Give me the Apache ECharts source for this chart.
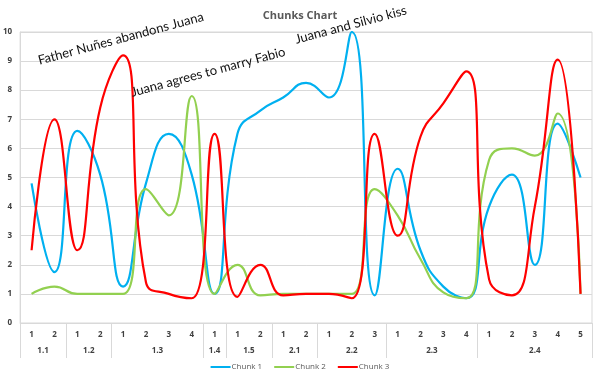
<!DOCTYPE html>
<html>
<head>
<meta charset="utf-8">
<script src="https://cdn.jsdelivr.net/npm/echarts@6/dist/echarts.min.js"></script>
<style>html,body{margin:0;padding:0;background:#fff}#c{width:600px;height:383px}</style>
</head>
<body>
<div id="c"></div>
<script>
const innerLabels = ['1','2','1','2','1','2','3','4','1','1','2','1','2','1','2','3','1','2','3','4','1','2','3','4','5'];
const groupNames = ['1.1','1.2','1.3','1.4','1.5','2.1','2.2','2.3','2.4'];
const groupSizes = [2,2,4,1,2,2,3,4,5];
const chunk1 = [4.8,1.75,6.6,5.1,1.25,4.8,6.5,5.1,1.0,6.5,7.3,7.75,8.25,7.75,10,0.95,5.3,2.5,1.25,0.85,4.0,5.1,2.0,6.85,5.0];
const chunk2 = [1.0,1.25,1.0,1.0,1.0,4.6,3.7,7.8,1.0,2.0,0.95,1.0,1.0,1.0,1.0,4.6,3.7,2.2,1.05,0.85,5.6,6.0,5.75,7.2,1.0];
const chunk3 = [2.5,7.0,2.5,7.4,9.2,1.4,1.0,0.85,6.5,0.9,2.0,0.95,1.0,1.0,0.85,6.5,3.0,6.4,7.55,8.65,1.5,0.95,4.0,9.05,1.0];
const yTicks = [0,1,2,3,4,5,6,7,8,9,10];
const annotations = [
  {text:'Father Nuñes abandons Juana', x:40, y:67},
  {text:'Juana agrees to marry Fabio', x:133, y:99},
  {text:'Juana and Silvio kiss', x:297, y:46}
];

const boundaries = [0];
const centers = [];
groupSizes.forEach((s) => { const b = boundaries[boundaries.length-1]; centers.push(b + s/2); boundaries.push(b + s); });

const chart = echarts.init(document.getElementById('c'));
const gridLeft = 20, gridTop = 32, gridRight = 8, gridBottom = 60;
const axisColor = '#d9d9d9', labelColor = '#404040';
const font = 'Open Sans, Liberation Sans, sans-serif';
const annFont = 'Lato, "Liberation Sans", sans-serif';

chart.setOption({
  animation: false,
  title: {text: 'Chunks Chart', left: 'center', top: 5,
    textStyle: {fontFamily: font, fontSize: 11, fontWeight: 'bold', color: '#595959'}},
  grid: {left: gridLeft, right: gridRight, top: gridTop, bottom: gridBottom, show: true, borderColor: axisColor, borderWidth: 1},
  legend: {bottom: 7, left: 'center', icon: 'rect', itemWidth: 20, itemHeight: 2, itemGap: 12,
    textStyle: {fontFamily: font, fontSize: 8, color: '#595959', padding: [0,0,0,-4]},
    data: ['Chunk 1','Chunk 2','Chunk 3']},
  xAxis: [
    {type: 'category', data: innerLabels, boundaryGap: true, position: 'bottom',
     axisLine: {show: true, lineStyle: {color: axisColor}}, axisTick: {show: false},
     axisLabel: {interval: 0, margin: 8, fontFamily: font, fontSize: 8, fontWeight: 'bold', color: labelColor},
     splitLine: {show: false}},
    {type: 'value', min: 0, max: groupSizes.reduce((a,b)=>a+b,0), position: 'bottom',
     axisLine: {show: false},
     axisTick: {show: true, customValues: boundaries, length: 35, inside: false, lineStyle: {color: axisColor}},
     axisLabel: {customValues: centers, margin: 24, fontFamily: font, fontSize: 8, fontWeight: 'bold', color: labelColor,
       formatter: (v) => { const i = centers.indexOf(v); return i >= 0 ? groupNames[i] : ''; }},
     splitLine: {show: false}}
  ],
  yAxis: {type: 'value', min: yTicks[0], max: yTicks[yTicks.length-1], interval: 1,
    axisLine: {show: true, lineStyle: {color: axisColor}}, axisTick: {show: false},
    axisLabel: {margin: 8, fontFamily: font, fontSize: 8, fontWeight: 'bold', color: labelColor},
    splitLine: {show: true, lineStyle: {color: axisColor}}},
  series: [
    {name: 'Chunk 1', type: 'line', data: chunk1, smooth: true, symbol: 'none', xAxisIndex: 0, lineStyle: {width: 2.2, color: '#00B0F0'}, itemStyle: {color: '#00B0F0'}},
    {name: 'Chunk 2', type: 'line', data: chunk2, smooth: true, symbol: 'none', xAxisIndex: 0, lineStyle: {width: 2.2, color: '#92D050'}, itemStyle: {color: '#92D050'}},
    {name: 'Chunk 3', type: 'line', data: chunk3, smooth: true, symbol: 'none', xAxisIndex: 0, lineStyle: {width: 2.2, color: '#FF0000'}, itemStyle: {color: '#FF0000'}}
  ],
  graphic: annotations.map(a => ({
    type: 'text', x: a.x, y: a.y, rotation: 15 * Math.PI / 180, z: 100,
    style: {text: a.text, fontFamily: annFont, fontSize: 13, fill: '#111', textVerticalAlign: 'bottom'}
  }))
});
</script>
</body>
</html>
